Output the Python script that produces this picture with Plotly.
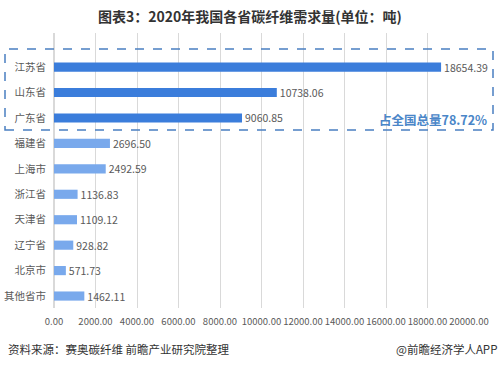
import plotly.graph_objects as go

categories = ["江苏省", "山东省", "广东省", "福建省", "上海市", "浙江省", "天津省", "辽宁省", "北京市", "其他省市"]
values = [18654.39, 10738.06, 9060.85, 2696.50, 2492.59, 1136.83, 1109.12, 928.82, 571.73, 1462.11]
x_ticks = [0, 2000, 4000, 6000, 8000, 10000, 12000, 14000, 16000, 18000, 20000]

dark = "#3b7ddb"
light = "#79a9ec"
colors = [dark] * 3 + [light] * 7

FONT = "Noto Sans CJK SC"
W, H = 500, 367
L, R, T, B = 54, 31, 33, 59
pw, ph = W - L - R, H - T - B

def px_x(x):
    return (x - L) / pw

def px_y(y):
    return (H - B - y) / ph

fig = go.Figure()
fig.add_trace(go.Bar(
    y=categories, x=values, orientation="h",
    marker=dict(color=colors, line=dict(width=0)),
    width=0.36,
    text=[f"{v:.2f}" for v in values], textposition="outside",
    constraintext="none",
    textfont=dict(family=FONT, size=10.5, color="#595959"),
    cliponaxis=False,
))

fig.update_layout(
    width=W, height=H,
    margin=dict(l=L, r=R, t=T, b=B, autoexpand=False),
    paper_bgcolor="white", plot_bgcolor="white",
    showlegend=False,
    font=dict(family=FONT),
    xaxis=dict(range=[0, 20000], tickvals=x_ticks, tickformat=".2f",
               tickangle=0, automargin=False,
               showgrid=True, gridcolor="#d9d9d9", gridwidth=1,
               zeroline=True, zerolinecolor="#d9d9d9",
               tickfont=dict(family=FONT, size=9.5, color="#595959"),
               ticks="", ticklabelstandoff=6, showline=False, fixedrange=True),
    yaxis=dict(type="category", range=[9.47, -1.34], automargin=False,
               tickfont=dict(family=FONT, size=10.5, color="#595959"),
               ticks="", ticklabelstandoff=7, showgrid=False, showline=False),
    annotations=[
        dict(text="<b>图表3：2020年我国各省碳纤维需求量(单位：吨)</b>", x=px_x(250), y=px_y(16),
             xref="paper", yref="paper", xanchor="center", yanchor="middle",
             showarrow=False, font=dict(family=FONT, size=14, color="#333333")),
        dict(text="<b>占全国总量78.72%</b>", x=px_x(489), y=px_y(119),
             xref="paper", yref="paper", xanchor="right", yanchor="middle",
             showarrow=False, font=dict(family=FONT, size=12.5, color="#4a86c8")),
        dict(text="资料来源：赛奥碳纤维 前瞻产业研究院整理", x=px_x(6), y=px_y(349),
             xref="paper", yref="paper", xanchor="left", yanchor="middle",
             showarrow=False, font=dict(family=FONT, size=11.5, color="#333333")),
        dict(text="@前瞻经济学人APP", x=px_x(499), y=px_y(349),
             xref="paper", yref="paper", xanchor="right", yanchor="middle",
             showarrow=False, font=dict(family=FONT, size=11.5, color="#333333")),
    ],
    shapes=[
        dict(type="rect", xref="paper", yref="paper",
             x0=px_x(5), x1=px_x(493), y0=px_y(130), y1=px_y(49),
             line=dict(color="#4a7fc1", width=1.5, dash="dash"),
             fillcolor="rgba(0,0,0,0)", layer="above"),
    ],
)

fig.write_html("out.html", config={"displayModeBar": False},
               post_script="document.body.style.margin='0';document.body.style.overflow='hidden';")
